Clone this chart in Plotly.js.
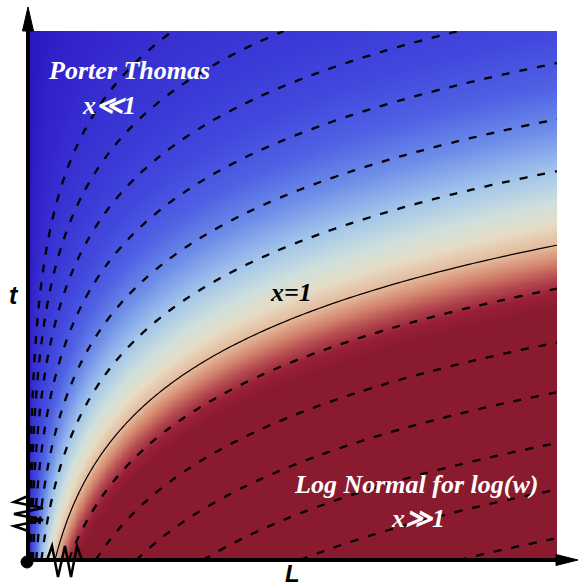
<!DOCTYPE html>
<html>
<head>
<meta charset="utf-8">
<script src="https://cdn.plot.ly/plotly-3.0.1.min.js"></script>
<style>html,body{margin:0;padding:0;background:#fff;}#chart{width:579px;height:587px;}</style>
</head>
<body>
<div id="chart"></div>
<script>
// Crossover parameter x = (L/L0) * exp(-t/tau); x = 1 on the solid line
const L0 = 0.051;
const tau = 0.2;
// ln(x) values of dashed contour lines
const dashedLevels = [-3.32, -2.75, -2.23, -1.72, -1.19, -0.70, 0.41, 0.92, 1.39, 1.87, 2.31, 2.77];
const solidLevels = [0];
// colour ramp in ln(x)
const rampLnx = [-6, -4, -2.6, -2, -1.5, -1.1, -0.7, -0.4, -0.2, 0, 0.15, 0.3, 0.45, 0.6, 1];
const rampColors = ['#2a1ac0', '#3326cc', '#3a3ad6', '#4248de', '#5062e4', '#6e8ee9', '#a4c6ea',
  '#cfe0dc', '#e6dcc4', '#e4b89a', '#d4866e', '#b44a50', '#981f36', '#8a1a2e', '#8a1a2e'];
const labels = {
  regionLow: ['Porter Thomas', 'x≪1'],
  regionMid: 'x=1',
  regionHigh: ['Log Normal for log(w)', 'x≫1'],
  xAxis: 'L',
  yAxis: 't'
};

const zmin = rampLnx[0], zmax = rampLnx[rampLnx.length - 1];
const colorscale = rampLnx.map((v, i) => [(v - zmin) / (zmax - zmin), rampColors[i]]);

function lnx(L, t) { return Math.log(L) - Math.log(L0) - t / tau; }

// heatmap grid
const N = 300;
const hx = [], hy = [];
for (let i = 0; i < N; i++) { hx.push((i + 0.5) / N); hy.push((i + 0.5) / N); }
const hz = hy.map(t => hx.map(L => Math.max(zmin, Math.min(zmax, lnx(L, t)))));

// contour grid (dense near L = 0)
const cx = [], cy = [];
const NC = 260;
for (let i = 0; i <= NC; i++) cx.push(Math.pow(10, -4 + 4 * i / NC));
for (let j = 0; j <= 200; j++) cy.push(j / 200);
const cz = cy.map(t => cx.map(L => lnx(L, t)));

const traces = [{
  type: 'heatmap', x: hx, y: hy, z: hz, zmin: zmin, zmax: zmax,
  colorscale: colorscale, showscale: false, zsmooth: 'best', hoverinfo: 'skip'
}];
function contourTrace(level, dash, width) {
  return {
    type: 'contour', x: cx, y: cy, z: cz, autocontour: false,
    contours: { coloring: 'none', start: level, end: level + 1e-6, size: 1, showlabels: false },
    line: { color: 'black', width: width, dash: dash, smoothing: 0 },
    showscale: false, hoverinfo: 'skip'
  };
}
dashedLevels.forEach(l => traces.push(contourTrace(l, '8px,10px', 2.3)));
solidLevels.forEach(l => traces.push(contourTrace(l, 'solid', 1.2)));

// pixel -> paper helpers for decorations
const PL = 28, PT = 31, PW = 529, PH = 529;
const px = v => (v - PL) / PW;
const py = v => (PT + PH - v) / PH;
function pathFrom(pts, close) {
  return pts.map((p, i) => (i ? 'L' : 'M') + px(p[0]).toFixed(5) + ',' + py(p[1]).toFixed(5)).join(' ') + (close ? ' Z' : '');
}
const shapes = [
  { type: 'line', xref: 'paper', yref: 'paper', x0: px(28), y0: py(562), x1: px(28), y1: py(26), line: { color: 'black', width: 4 } },
  { type: 'line', xref: 'paper', yref: 'paper', x0: px(26), y0: py(560), x1: px(562), y1: py(560), line: { color: 'black', width: 4 } },
  { type: 'path', xref: 'paper', yref: 'paper', path: pathFrom([[28, 7], [22.5, 31], [33.5, 31]], true), fillcolor: 'black', line: { color: 'black', width: 1 } },
  { type: 'path', xref: 'paper', yref: 'paper', path: pathFrom([[578, 560], [556, 554.5], [556, 565.5]], true), fillcolor: 'black', line: { color: 'black', width: 1 } },
  { type: 'circle', xref: 'paper', yref: 'paper', x0: px(21), y0: py(568), x1: px(33), y1: py(556), fillcolor: 'black', line: { color: 'black', width: 1 } },
  { type: 'path', xref: 'paper', yref: 'paper', path: pathFrom([[28, 496], [14, 502], [43, 508], [14, 514], [43, 520], [14, 526], [28, 531]], false), line: { color: 'black', width: 2.5 } },
  { type: 'path', xref: 'paper', yref: 'paper', path: pathFrom([[47, 560], [52, 546], [58, 577], [65, 546], [71, 577], [77, 546], [82, 560]], false), line: { color: 'black', width: 2.5 } }
];

const serif = (size, color) => ({ family: 'Liberation Serif', size: size, color: color, weight: 'bold', style: 'italic' });
const sans = (size) => ({ family: 'Liberation Sans', size: size, color: 'black', weight: 'bold', style: 'italic' });
const ann = (text, x, y, font) => ({ xref: 'paper', yref: 'paper', x: px(x), y: py(y), text: text, showarrow: false, xanchor: 'center', yanchor: 'middle', font: font });
const annotations = [
  ann(labels.regionLow[0], 129, 71, serif(26, 'white')),
  ann(labels.regionLow[1], 109, 105, serif(26, 'white')),
  ann(labels.regionMid, 291, 292, serif(26, 'black')),
  ann(labels.regionHigh[0], 416, 484, serif(26, 'white')),
  ann(labels.regionHigh[1], 418, 518, serif(26, 'white')),
  ann(labels.yAxis, 14, 295, sans(25)),
  ann(labels.xAxis, 292, 573, sans(24))
];

const layout = {
  width: 579, height: 587,
  margin: { l: PL, r: 579 - PL - PW, t: PT, b: 587 - PT - PH, pad: 0 },
  paper_bgcolor: 'white', plot_bgcolor: 'white',
  showlegend: false,
  xaxis: { range: [0, 1], showgrid: false, zeroline: false, showticklabels: false, ticks: '', showline: false, fixedrange: true },
  yaxis: { range: [0, 1], showgrid: false, zeroline: false, showticklabels: false, ticks: '', showline: false, fixedrange: true },
  shapes: shapes,
  annotations: annotations
};
Plotly.newPlot('chart', traces, layout, { displayModeBar: false, staticPlot: true });
</script>
</body>
</html>
